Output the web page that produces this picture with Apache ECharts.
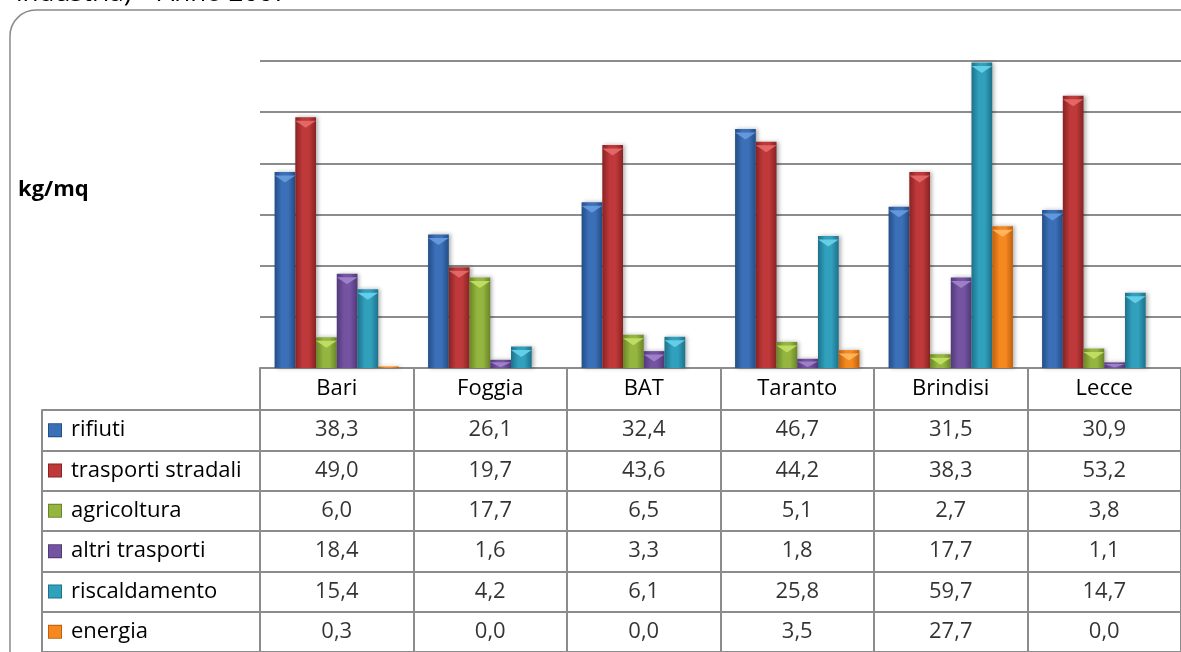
<!DOCTYPE html>
<html>
<head>
<meta charset="utf-8">
<script src="https://cdn.jsdelivr.net/npm/echarts@6/dist/echarts.min.js"></script>
<style>
  html, body { margin: 0; padding: 0; background: #fff; }
  #chart { width: 1181px; height: 652px; }
</style>
</head>
<body>
<div id="chart"></div>
<script>
  // dati (kg/mq) per provincia
  const cities = ['Bari', 'Foggia', 'BAT', 'Taranto', 'Brindisi', 'Lecce']
  const seriesNames = ['rifiuti', 'trasporti stradali', 'agricoltura', 'altri trasporti', 'riscaldamento', 'energia']
  const rifiuti = [38.3, 26.1, 32.4, 46.7, 31.5, 30.9]
  const trasportiStradali = [49.0, 19.7, 43.6, 44.2, 38.3, 53.2]
  const agricoltura = [6.0, 17.7, 6.5, 5.1, 2.7, 3.8]
  const altriTrasporti = [18.4, 1.6, 3.3, 1.8, 17.7, 1.1]
  const riscaldamento = [15.4, 4.2, 6.1, 25.8, 59.7, 14.7]
  const energia = [0.3, 0.0, 0.0, 3.5, 27.7, 0.0]
  const values = [rifiuti, trasportiStradali, agricoltura, altriTrasporti, riscaldamento, energia]

  // colori: [bordo scuro, centro, punta chiara]
  const palette = [
    ['#234d87', '#3b70b8', '#6d9de0'],
    ['#872323', '#c0393a', '#e8706f'],
    ['#6a8528', '#94b53f', '#c7e46a'],
    ['#51397a', '#7453a0', '#a688d0'],
    ['#1d7189', '#30a0bd', '#6fd6ee'],
    ['#c0600c', '#f5881f', '#ffbd6a']
  ]
  const lineColor = '#8c8c8c'
  const font = 'Open Sans'
  const fs = 22

  const chart = echarts.init(document.getElementById('chart'))

  const grad = (c) => new echarts.graphic.LinearGradient(0, 0, 1, 0, [
    { offset: 0, color: c[0] },
    { offset: 0.35, color: c[1] },
    { offset: 0.65, color: c[1] },
    { offset: 1, color: c[0] }
  ])

  const fmt = (v) => v.toFixed(1).replace('.', ',')
  const pxPerUnit = 307 / 60

  const bars = values.map((arr, i) => ({
    type: 'bar',
    name: seriesNames[i],
    xAxisIndex: 0,
    yAxisIndex: 0,
    barGap: '0%',
    barCategoryGap: '19%',
    data: arr,
    itemStyle: {
      color: grad(palette[i]),
      shadowBlur: 4,
      shadowOffsetX: 2,
      shadowColor: 'rgba(0,0,0,0.3)'
    },
    animation: false
  }))

  // punta a triangolo sulla cima di ogni barra
  const tips = values.map((arr, i) => ({
    type: 'pictorialBar',
    name: seriesNames[i] + '_tip',
    xAxisIndex: 0,
    yAxisIndex: 0,
    barGap: '0%',
    barCategoryGap: '19%',
    symbol: 'path://M0,0 L10,0 L5,6 Z',
    symbolPosition: 'end',
    symbolOffset: [0, '50%'],
    itemStyle: { color: palette[i][2], opacity: 0.85 },
    data: arr.map(v => v >= 1
      ? { value: v, symbolSize: ['100%', Math.min(7, v * pxPerUnit * 0.6)] }
      : '-'),
    silent: true,
    z: 3,
    animation: false
  }))

  const cells = []
  values.forEach((arr, si) => {
    arr.forEach((v, ci) => cells.push([ci, si, v]))
  })

  chart.setOption({
    textStyle: { fontFamily: font },
    graphic: [
      {
        type: 'rect',
        shape: { x: 10, y: 10, width: 1400, height: 900, r: 26 },
        style: { fill: 'none', stroke: '#8a8a8a', lineWidth: 1.5 },
        silent: true
      },
      {
        type: 'text',
        x: 16,
        y: 7,
        style: { text: 'industria) – Anno 2007', fill: '#000', font: '26px ' + font, verticalAlign: 'bottom' }
      },
      {
        type: 'text',
        left: 18,
        top: 179,
        style: { text: 'kg/mq', fill: '#000', font: 'bold 22px ' + font }
      }
    ],
    grid: [
      { left: 260, top: 61, width: 939, height: 307 },
      { left: 260, top: 410, width: 939, height: 250 }
    ],
    xAxis: [
      {
        type: 'category',
        gridIndex: 0,
        data: cities,
        axisLine: { lineStyle: { color: lineColor, width: 2 } },
        axisTick: { show: true, interval: 0, length: 292, lineStyle: { color: lineColor, width: 2 } },
        axisLabel: { interval: 0, margin: 10, color: '#000', fontSize: fs, fontFamily: font }
      },
      {
        type: 'category',
        gridIndex: 1,
        data: cities,
        show: false
      }
    ],
    yAxis: [
      {
        type: 'value',
        gridIndex: 0,
        min: 0,
        max: 60,
        interval: 10,
        axisLine: { show: false },
        axisTick: { show: false },
        axisLabel: { show: false },
        splitLine: { lineStyle: { color: lineColor, width: 2 } }
      },
      {
        type: 'category',
        gridIndex: 1,
        data: seriesNames,
        inverse: true,
        axisLine: { show: false },
        axisTick: { show: true, interval: 0, length: 218, lineStyle: { color: lineColor, width: 2 } },
        splitLine: { show: true, interval: 0, lineStyle: { color: lineColor, width: 2 } },
        axisLabel: {
          interval: 0,
          align: 'left',
          margin: 211,
          color: '#000',
          fontSize: fs,
          fontFamily: font,
          formatter: (name, idx) => `{k${idx}|}{t|${name}}`,
          rich: Object.assign({
            t: { fontSize: fs, fontFamily: font, color: '#000', padding: [0, 0, 0, 10] }
          }, ...palette.map((c, i) => ({
            ['k' + i]: { width: 12, height: 12, backgroundColor: c[1], borderColor: c[0], borderWidth: 1 }
          })))
        }
      },
      {
        type: 'value',
        gridIndex: 1,
        position: 'left',
        offset: 218,
        axisLine: { show: true, lineStyle: { color: lineColor, width: 2 } },
        axisTick: { show: false },
        axisLabel: { show: false },
        splitLine: { show: false }
      }
    ],
    series: [
      ...bars,
      ...tips,
      {
        type: 'scatter',
        name: 'tabella',
        xAxisIndex: 1,
        yAxisIndex: 1,
        symbolSize: 1,
        itemStyle: { color: 'rgba(0,0,0,0)' },
        data: cells,
        label: {
          show: true,
          position: 'inside',
          color: '#000',
          fontSize: fs,
          fontFamily: font,
          formatter: (p) => fmt(p.value[2])
        },
        silent: true,
        animation: false
      }
    ]
  })
</script>
</body>
</html>
